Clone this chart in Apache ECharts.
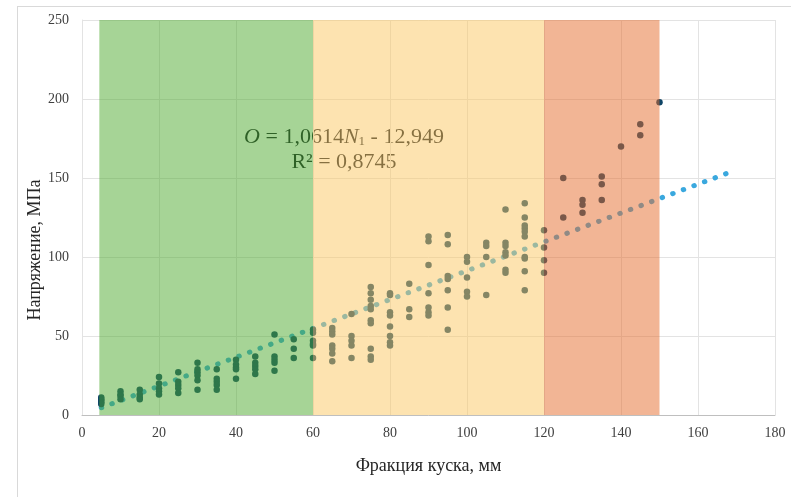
<!DOCTYPE html>
<html>
<head>
<meta charset="utf-8">
<script src="https://cdn.jsdelivr.net/npm/echarts@6/dist/echarts.min.js"></script>
<style>
    html, body { margin: 0; padding: 0; background: #ffffff; }
    #chart { width: 791px; height: 497px; }
</style>
</head>
<body>
<div id="chart"></div>
<script>
// Фракции (мм) и измеренные напряжения (МПа) для каждой фракции
const fractions = [5, 10, 15, 20, 25, 30, 35, 40, 45, 50, 55, 60, 65, 70, 75,
    80, 85, 90, 95, 100, 105, 110, 115, 120, 125, 130, 135, 140, 145, 150];
const stressByFraction = [
    [11, 10, 9, 8, 7],
    [15, 13, 12, 10],
    [16, 13, 11, 10],
    [24, 20, 17, 15, 13],
    [27, 21, 19, 17, 14],
    [33, 29, 27, 25, 22, 16],
    [29, 23, 21, 19, 16],
    [35, 32, 30, 29, 23],
    [37, 33, 31, 29, 26],
    [51, 37, 35, 33, 28],
    [48, 42, 36],
    [54, 52, 47, 45, 44, 36],
    [55, 53, 51, 44, 42, 39, 34],
    [64, 50, 47, 44, 36],
    [81, 77, 73, 69, 67, 60, 58, 42, 37, 35],
    [77, 76, 65, 63, 56, 50, 46, 44],
    [83, 67, 62],
    [113, 110, 95, 77, 68, 65, 63],
    [114, 108, 88, 86, 79, 68, 54],
    [100, 97, 87, 78, 75],
    [109, 107, 100, 76],
    [130, 109, 107, 103, 101, 92, 90],
    [134, 125, 120, 118, 116, 113, 100, 99, 91, 79],
    [117, 106, 98, 90],
    [150, 125],
    [136, 133, 128],
    [151, 146, 136],
    [170],
    [184, 177],
    [198]
];

// Линия тренда (концы)
const trendX = [5, 168];
const trendY = [4.6, 153.4];

// Зоны фракций
const bandStarts = [4.5, 60, 120];
const bandEnds = [60, 120, 150];
const bandColors = ['rgba(77,169,45,0.5)', 'rgba(251,199,97,0.5)', 'rgba(229,107,43,0.5)'];

const xTicks = { min: 0, max: 180, interval: 20 };
const yTicks = { min: 0, max: 250, interval: 50 };

const serif = '"Liberation Serif", "Times New Roman", serif';

document.addEventListener('DOMContentLoaded', function() {
    const chart = echarts.init(document.getElementById('chart'));

    const points = [];
    fractions.forEach(function(f, i) {
        stressByFraction[i].forEach(function(v) {
            points.push([f, v]);
        });
    });

    const trend = trendX.map(function(x, i) { return [x, trendY[i]]; });

    const bands = bandStarts.map(function(s, i) {
        return [
            { xAxis: s, itemStyle: { color: bandColors[i] } },
            { xAxis: bandEnds[i] }
        ];
    });

    const option = {
        animation: false,
        backgroundColor: '#ffffff',
        grid: {
            left: 82,
            right: 16,
            top: 20,
            bottom: 82
        },
        xAxis: {
            type: 'value',
            min: xTicks.min,
            max: xTicks.max,
            interval: xTicks.interval,
            name: 'Фракция куска, мм',
            nameLocation: 'middle',
            nameGap: 42,
            nameTextStyle: {
                fontFamily: serif,
                fontSize: 18,
                color: '#262626'
            },
            axisLine: { lineStyle: { color: '#bfbfbf', width: 1 } },
            axisTick: { show: false },
            axisLabel: {
                fontFamily: serif,
                fontSize: 14,
                color: '#404040',
                margin: 11
            },
            splitLine: { lineStyle: { color: '#e3e3e3', width: 1 } }
        },
        yAxis: {
            type: 'value',
            min: yTicks.min,
            max: yTicks.max,
            interval: yTicks.interval,
            axisLine: { show: true, lineStyle: { color: '#e3e3e3', width: 1 } },
            axisTick: { show: false },
            axisLabel: {
                fontFamily: serif,
                fontSize: 14,
                color: '#404040',
                margin: 13
            },
            splitLine: { lineStyle: { color: '#e3e3e3', width: 1 } }
        },
        graphic: [
            {
                type: 'line',
                z: 0,
                shape: { x1: 17.5, y1: 6, x2: 17.5, y2: 497 },
                style: { stroke: '#d9d9d9', lineWidth: 1 }
            },
            {
                type: 'line',
                z: 0,
                shape: { x1: 17, y1: 6.5, x2: 791, y2: 6.5 },
                style: { stroke: '#d9d9d9', lineWidth: 1 }
            },
            {
                type: 'text',
                z: 0,
                x: 35,
                y: 250,
                rotation: Math.PI / 2,
                style: {
                    text: 'Напряжение, МПа',
                    fontFamily: serif,
                    fontSize: 18,
                    fill: '#262626',
                    align: 'center',
                    verticalAlign: 'middle'
                }
            },
            {
                type: 'text',
                z: 0,
                x: 344,
                y: 137,
                style: {
                    text: '{i|O} = 1,0614{i|N}{s|1} - 12,949',
                    fontFamily: serif,
                    fontSize: 22,
                    fill: '#101820',
                    align: 'center',
                    verticalAlign: 'middle',
                    rich: {
                        i: { fontFamily: serif, fontSize: 22, fontStyle: 'italic', fill: '#101820' },
                        s: { fontFamily: serif, fontSize: 13, fill: '#101820', padding: [10, 0, 0, 0] }
                    }
                }
            },
            {
                type: 'text',
                z: 0,
                x: 344,
                y: 162,
                style: {
                    text: 'R² = 0,8745',
                    fontFamily: serif,
                    fontSize: 22,
                    fill: '#101820',
                    align: 'center',
                    verticalAlign: 'middle'
                }
            }
        ],
        series: [
            {
                name: 'Тренд',
                type: 'line',
                z: 1,
                data: trend,
                symbol: 'none',
                lineStyle: {
                    color: '#3aa8de',
                    width: 5,
                    type: [0.5, 10.8],
                    cap: 'round'
                }
            },
            {
                name: 'Напряжение',
                type: 'scatter',
                z: 2,
                data: points,
                symbolSize: 6.5,
                itemStyle: { color: '#0e4466', opacity: 1 }
            },
            {
                name: 'Зоны',
                type: 'line',
                z: 5,
                silent: true,
                data: [],
                markArea: {
                    z: 10,
                    silent: true,
                    data: bands
                }
            }
        ]
    };

    chart.setOption(option);

    window.addEventListener('resize', function() {
        chart.resize();
    });
});
</script>
</body>
</html>
